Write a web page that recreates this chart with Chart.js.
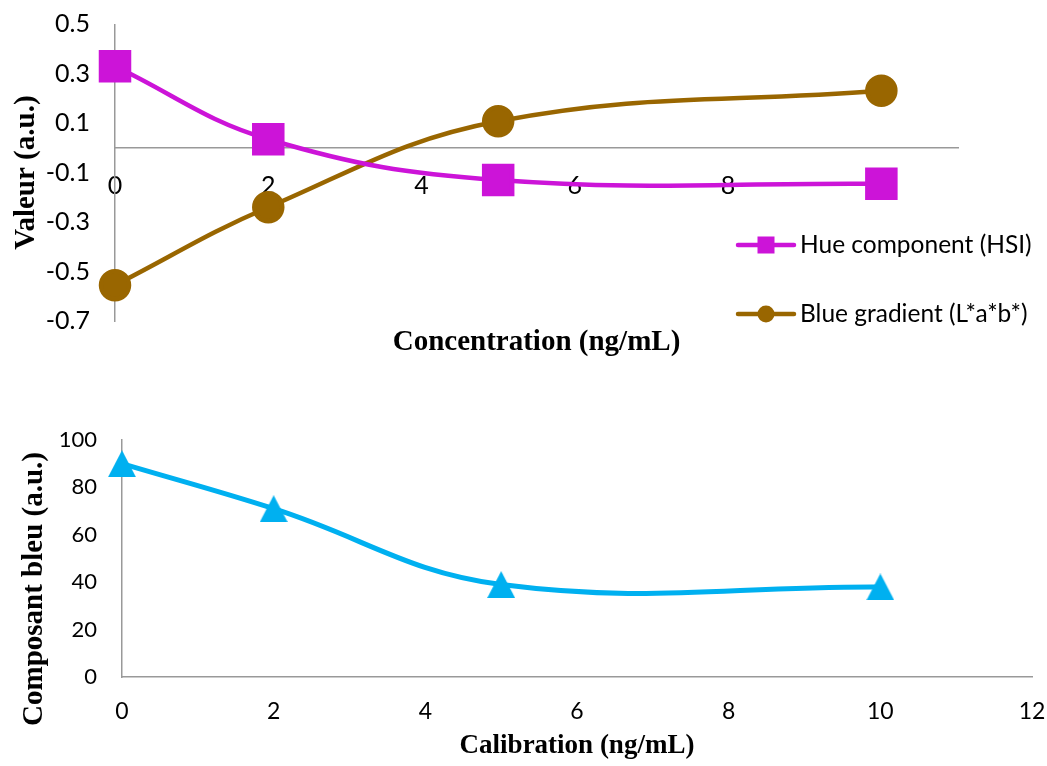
<!DOCTYPE html>
<html>
<head>
<meta charset="utf-8">
<script src="https://cdn.jsdelivr.net/npm/chart.js@4.4.1/dist/chart.umd.min.js"></script>
<style>
  html, body { margin: 0; padding: 0; background: #fff; }
  #page { position: relative; width: 1047px; height: 766px; overflow: hidden; }
  #graphHaut { position: absolute; left: 0; top: 0; }
  #graphBas { position: absolute; left: 0; top: 390px; }
</style>
</head>
<body>
<div id="page">
  <canvas id="graphHaut" width="1047" height="372"></canvas>
  <canvas id="graphBas" width="1047" height="376"></canvas>
</div>
<script>
// --- données ---
const concentrations = [0, 2, 5, 10];
const hueComponent = [0.33, 0.035, -0.13, -0.145];
const blueGradient = [-0.555, -0.24, 0.108, 0.231];
const xTicksHaut = [0, 2, 4, 6, 8, 10];
const yTicksHaut = [-0.7, -0.5, -0.3, -0.1, 0.1, 0.3, 0.5];

const calibration = [0, 2, 5, 10];
const composantBleu = [90, 71, 39, 38];
const xTicksBas = [0, 2, 4, 6, 8, 10, 12];
const yTicksBas = [0, 20, 40, 60, 80, 100];

const MAGENTA = '#cc14d8';
const BRUN = '#996600';
const BLEU = '#00b0f0';
const GRIS = '#999999';

Chart.defaults.font.family = 'Lato';
Chart.defaults.color = '#000';

function points(xs, ys) {
  return xs.map((x, i) => ({ x: x, y: ys[i] }));
}

function fixTicks(list) {
  return scale => { scale.ticks = list.map(v => ({ value: v })); };
}

// marques de graduation invisibles : elles servent juste d'écart entre l'axe et les libellés
function gridSansTraits(longueur) {
  return { display: false, drawTicks: true, tickLength: longueur };
}

// triangle comme dans Excel (centré sur sa boîte)
function triangleMarker(w, h, color) {
  const c = document.createElement('canvas');
  c.width = w;
  c.height = h;
  const g = c.getContext('2d');
  g.fillStyle = color;
  g.beginPath();
  g.moveTo(w / 2, 0);
  g.lineTo(w, h);
  g.lineTo(0, h);
  g.closePath();
  g.fill();
  return c;
}

const legendeHaut = {
  id: 'legendeHaut',
  afterDraw(chart) {
    const ctx = chart.ctx;
    const a = chart.chartArea;
    chart.data.datasets.forEach((ds, i) => {
      const y = a.bottom - 76 + i * 69;
      const x0 = a.right - 220;
      ctx.save();
      ctx.strokeStyle = ds.borderColor;
      ctx.lineWidth = 4.5;
      ctx.lineCap = 'round';
      ctx.beginPath();
      ctx.moveTo(x0, y);
      ctx.lineTo(x0 + 56, y);
      ctx.stroke();
      ctx.fillStyle = ds.backgroundColor;
      if (ds.pointStyle === 'rect') {
        ctx.fillRect(x0 + 28 - 8.5, y - 8.5, 17, 17);
      } else {
        ctx.beginPath();
        ctx.arc(x0 + 28, y, 8.5, 0, Math.PI * 2);
        ctx.fill();
      }
      ctx.fillStyle = '#000';
      ctx.font = '24.5px Lato';
      ctx.textBaseline = 'middle';
      ctx.fillText(ds.label, x0 + 62, y);
      ctx.restore();
    });
  }
};

new Chart(document.getElementById('graphHaut'), {
  type: 'line',
  data: {
    datasets: [{
      label: 'Hue component (HSI)',
      data: points(concentrations, hueComponent),
      borderColor: MAGENTA,
      backgroundColor: MAGENTA,
      borderWidth: 4.5,
      pointStyle: 'rect',
      pointRadius: 19.8,
      pointHoverRadius: 19.8,
      tension: 0.4,
      clip: false
    }, {
      label: 'Blue gradient (L*a*b*)',
      data: points(concentrations, blueGradient),
      borderColor: BRUN,
      backgroundColor: BRUN,
      borderWidth: 4.5,
      pointStyle: 'circle',
      pointRadius: 14,
      pointHoverRadius: 14,
      tension: 0.4,
      clip: false
    }]
  },
  options: {
    responsive: false,
    animation: false,
    events: [],
    layout: { padding: { left: 0, top: 22, right: 89, bottom: 1 } },
    plugins: { legend: { display: false }, tooltip: { enabled: false } },
    scales: {
      x: {
        type: 'linear',
        min: 0,
        max: 11,
        position: { y: 0 },
        z: 1,
        afterBuildTicks: fixTicks(xTicksHaut),
        grid: gridSansTraits(20),
        border: { display: true, color: GRIS, width: 1.5 },
        ticks: { font: { size: 25 }, padding: 3, color: '#000' }
      },
      x2: {
        type: 'linear',
        min: 0,
        max: 11,
        position: 'bottom',
        afterFit: s => { s.height = 50; },
        grid: { display: false, drawTicks: false },
        border: { display: false },
        ticks: { display: false },
        title: {
          display: true,
          text: 'Concentration (ng/mL)',
          font: { family: 'Liberation Serif', size: 29, weight: 'bold' },
          padding: { top: 0, bottom: 11 }
        }
      },
      y: {
        type: 'linear',
        min: -0.7,
        max: 0.5,
        afterBuildTicks: fixTicks(yTicksHaut),
        afterFit: s => { s.width = 115; },
        grid: gridSansTraits(22),
        border: { display: true, color: GRIS, width: 1.5 },
        ticks: { font: { size: 25 }, padding: 3, callback: v => v.toFixed(1) },
        title: {
          display: true,
          text: 'Valeur (a.u.)',
          font: { family: 'Liberation Serif', size: 29, weight: 'bold' },
          padding: { top: 9, bottom: 0 }
        }
      }
    }
  },
  plugins: [legendeHaut]
});

const titreYBas = {
  id: 'titreYBas',
  afterDraw(chart) {
    const ctx = chart.ctx;
    const a = chart.chartArea;
    ctx.save();
    ctx.translate(35, a.bottom - 88);
    ctx.rotate(-Math.PI / 2);
    ctx.font = 'bold 29px "Liberation Serif"';
    ctx.fillStyle = '#000';
    ctx.textAlign = 'center';
    ctx.textBaseline = 'middle';
    ctx.fillText('Composant bleu (a.u.)', 0, 0);
    ctx.restore();
  }
};

new Chart(document.getElementById('graphBas'), {
  type: 'line',
  data: {
    datasets: [{
      label: 'Composant bleu',
      data: points(calibration, composantBleu),
      borderColor: BLEU,
      backgroundColor: BLEU,
      borderWidth: 5,
      pointStyle: triangleMarker(28, 27, BLEU),
      tension: 0.4,
      clip: false
    }]
  },
  options: {
    responsive: false,
    animation: false,
    events: [],
    layout: { padding: { left: 0, top: 50, right: 15, bottom: 0 } },
    plugins: { legend: { display: false }, tooltip: { enabled: false } },
    scales: {
      x: {
        type: 'linear',
        min: 0,
        max: 12,
        afterBuildTicks: fixTicks(xTicksBas),
        afterFit: s => { s.height = 89; },
        grid: gridSansTraits(20),
        border: { display: true, color: GRIS, width: 1.5 },
        ticks: { font: { size: 23 }, padding: 1 },
        title: {
          display: true,
          text: 'Calibration (ng/mL)',
          font: { family: 'Liberation Serif', size: 27, weight: 'bold' },
          padding: { top: 0, bottom: 4 }
        }
      },
      y: {
        type: 'linear',
        min: 0,
        max: 100,
        afterBuildTicks: fixTicks(yTicksBas),
        afterFit: s => { s.width = 122; },
        grid: gridSansTraits(22),
        border: { display: true, color: GRIS, width: 1.5 },
        ticks: { font: { size: 22 }, padding: 3 }
      }
    }
  },
  plugins: [titreYBas]
});
</script>
</body>
</html>
